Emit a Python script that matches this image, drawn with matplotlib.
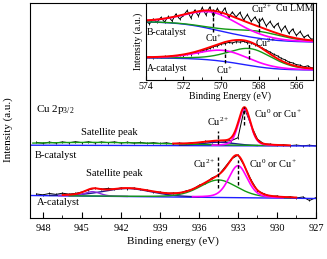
import numpy as np
import matplotlib.pyplot as plt
from matplotlib.ticker import MultipleLocator

plt.rcParams['font.family'] = ['Liberation Serif', 'DejaVu Serif']
plt.rcParams['mathtext.fontset'] = 'custom'
plt.rcParams['mathtext.rm'] = 'Liberation Serif'
plt.rcParams['mathtext.it'] = 'Liberation Serif:italic'

# ---- Cu 2p3/2 spectra, one point every 0.5 eV (948.5 -> 927 eV) ----
be_2p = np.linspace(948.5, 927.0, 44)
a_2p = [24.0, 23.2, 24.5, 23.6, 24.8, 23.9, 24.6, 26.0, 28.0, 29.8,
        28.9, 29.6, 28.7, 30.1, 29.4, 30.0, 28.6, 27.9, 26.2, 25.9,
        24.6, 25.0, 24.8, 27.1, 28.5, 32.6, 35.0, 40.1, 42.8, 50.9,
        59.0, 63.0, 52.0, 38.3, 27.4, 24.2, 21.6, 22.0, 20.6, 21.3,
        20.1, 21.0, 17.5, 20.4]
b_2p = [75.6, 74.7, 75.9, 75.0, 76.1, 75.2, 76.3, 75.3, 76.2, 75.1,
        76.0, 75.4, 76.1, 75.0, 75.8, 74.9, 75.6, 74.6, 75.3, 74.5,
        75.2, 74.2, 74.9, 74.3, 75.4, 75.1, 76.7, 76.4, 77.6, 76.8,
        77.4, 80.3, 110.0, 93.0, 78.9, 74.0, 73.8, 72.8, 73.3, 72.4,
        72.9, 72.2, 72.8, 72.1]

# fitted peaks: centre (eV), height, FWHM (eV)
a_cu1 = [933.0, 32.0, 1.7]
a_cu2 = [934.5, 17.5, 3.4]
a_sat1 = [941.5, 8.0, 4.5]
a_sat2 = [944.2, 4.5, 1.4]
a_bg = [22.5, 19.5]          # background at 949 / 927 eV
b_cu1 = [932.5, 37.0, 1.1]
b_cu2 = [934.5, 3.5, 3.0]
b_sat = [944.0, 3.0, 14.0]
b_bg = [72.8, 72.0]

# ---- Cu LMM spectra, one point every 0.2 eV (574 -> 565 eV) ----
be_lmm = np.linspace(574.0, 565.0, 46)
a_lmm = [22.5, 23.3, 22.2, 23.0, 22.6, 23.6, 23.1, 24.2, 23.5, 25.0,
         24.3, 26.2, 25.4, 27.6, 27.0, 29.3, 30.2, 31.5, 33.4, 34.0,
         35.9, 36.4, 37.6, 37.0, 38.3, 37.9, 38.6, 37.2, 37.0, 35.2,
         33.5, 31.9, 29.8, 28.0, 25.7, 24.1, 21.6, 20.2, 18.0, 17.1,
         15.4, 14.8, 13.1, 14.2, 12.0, 12.6]
b_lmm = [59.5, 56.0, 61.0, 57.5, 62.5, 58.0, 63.5, 59.0, 66.0, 61.0,
         64.5, 69.5, 62.0, 70.0, 64.0, 72.5, 65.0, 73.0, 63.5, 71.5,
         66.0, 72.0, 62.5, 68.0, 63.0, 67.5, 60.0, 65.5, 58.5, 63.0,
         57.0, 61.5, 54.0, 58.5, 52.5, 56.5, 49.0, 54.0, 46.5, 51.0,
         44.5, 48.5, 42.5, 45.0, 40.5, 42.0]
a_lmm_cu1 = [569.8, 11.0, 3.2]
a_lmm_cu2 = [568.4, 17.0, 2.8]
a_lmm_bg = [22.0, 10.0]      # high / low side of the Shirley step
b_lmm_cu1 = [570.4, 17.0, 3.4]
b_lmm_cu2 = [568.0, 7.0, 3.2]
b_lmm_bg = [58.0, 38.0]

RED = '#ff0000'
MAG = '#ff00ff'
GRN = '#139a13'
BLU = '#2020ff'
NAVY = '#1a1a90'
PUR = '#8a2be2'
DATA = dict(color='k', lw=0.7, marker='|', ms=1.8, mew=0.6)


def pv(x, p):
    c, h, w = p
    d = (x - c) / w
    return h * (0.7 * np.exp(-4 * np.log(2) * d ** 2) + 0.3 / (1 + 4 * d ** 2))


def shirley(x, comps, hi, lo):
    s = sum(comps)[::-1]
    xr = x[::-1]
    cum = np.concatenate([[0], np.cumsum((s[1:] + s[:-1]) / 2 * np.abs(np.diff(xr)))])
    return (lo + (hi - lo) * cum / cum[-1])[::-1]


def seg(ax, x, y, lo, hi, **kw):
    m = (x >= lo) & (x <= hi)
    ax.plot(x[m], y[m], **kw)


fig = plt.figure(figsize=(3.27, 2.59), dpi=100)
ax = fig.add_axes([0.0917, 0.1583, 0.8746, 0.8313])
ax.set_xlim(949, 927)
ax.set_ylim(0, 215.3)

xf = np.linspace(949, 927, 900)

# A-catalyst
bg = np.interp(xf, [927, 949], [a_bg[1], a_bg[0]])
p1, p2, s1, s2 = pv(xf, a_cu1), pv(xf, a_cu2), pv(xf, a_sat1), pv(xf, a_sat2)
ax.plot(be_2p, a_2p, **DATA)
ax.plot(xf, bg, color=BLU, lw=1.0)
seg(ax, xf, bg + s1, 936, 947.5, color=NAVY, lw=1.0)
seg(ax, xf, bg + s2, 941.5, 946.8, color=PUR, lw=1.0)
seg(ax, xf, bg + p2, 929, 946, color=GRN, lw=1.0)
seg(ax, xf, bg + p1, 929.5, 936.5, color=MAG, lw=1.2)
seg(ax, xf, bg + p1 + p2 + s1 + s2, 928.5, 946.5, color=RED, lw=1.4)

# B-catalyst
bg = np.interp(xf, [927, 949], [b_bg[1], b_bg[0]])
p1, p2, s1 = pv(xf, b_cu1), pv(xf, b_cu2), pv(xf, b_sat)
ax.plot(be_2p, b_2p, **DATA)
ax.plot(xf, bg, color=BLU, lw=1.0)
seg(ax, xf, bg + p2, 931.5, 937.5, color=NAVY, lw=1.0)
seg(ax, xf, bg + s1, 930, 948.8, color=GRN, lw=1.0)
seg(ax, xf, bg + p1, 930, 935, color=MAG, lw=1.2)
seg(ax, xf, bg + p1 + p2 + s1, 929, 938, color=RED, lw=1.4)

fs = 7.5
ax.text(948.5, 108, 'Cu 2p$_{3/2}$', fontsize=fs + 0.5, va='center')
ax.text(945.1, 85, 'Satellite peak', fontsize=fs, va='center')
ax.text(948.6, 62, 'B-catalyst', fontsize=fs, va='center')
ax.text(944.7, 44, 'Satellite peak', fontsize=fs, va='center')
ax.text(948.5, 15, 'A-catalyst', fontsize=fs, va='center')
ax.text(934.5, 96, 'Cu$^{2+}$', fontsize=fs, va='center', ha='center')
ax.text(931.8, 104, 'Cu$^{0}$ or Cu$^{+}$', fontsize=fs, va='center')
ax.text(935.6, 54, 'Cu$^{2+}$', fontsize=fs, va='center', ha='center')
ax.text(932.15, 54, 'Cu$^{0}$ or Cu$^{+}$', fontsize=fs, va='center')
for xv, y0, y1 in [(934.5, 74, 87), (932.5, 93, 111), (934.5, 30, 61), (933.0, 33, 58)]:
    ax.plot([xv, xv], [y0, y1], color='k', lw=1.0, ls=(0, (2.5, 1.5)))

ax.xaxis.set_major_locator(MultipleLocator(3))
ax.xaxis.set_minor_locator(MultipleLocator(1.5))
ax.tick_params(which='both', direction='in', top=False, left=False, labelleft=False,
               labelsize=7.5, pad=4)
ax.tick_params(which='major', length=4)
ax.tick_params(which='minor', length=2.5)
ax.set_yticks([])
ax.set_xlabel('Binding energy (eV)', fontsize=8, labelpad=3)
ax.set_ylabel('Intensity (a.u.)', fontsize=8)
ax.yaxis.set_label_coords(-0.06, 0.41)

# ---- inset: Cu LMM ----
axi = fig.add_axes([0.4456, 0.6911, 0.5125, 0.2962])
axi.set_xlim(574, 565.1)
axi.set_ylim(0, 76.7)
xi = np.linspace(574, 565.1, 500)

p1, p2 = pv(xi, a_lmm_cu1), pv(xi, a_lmm_cu2)
bg = shirley(xi, [p1, p2], *a_lmm_bg)
axi.plot(be_lmm, a_lmm, **DATA)
axi.plot(xi, bg, color=BLU, lw=1.0)
axi.plot(xi, bg + p2, color=GRN, lw=1.0)
axi.plot(xi, bg + p1, color=MAG, lw=1.2)
axi.plot(xi, bg + p1 + p2, color=RED, lw=1.4)

p1, p2 = pv(xi, b_lmm_cu1), pv(xi, b_lmm_cu2)
bg = shirley(xi, [p1, p2], *b_lmm_bg)
axi.plot(be_lmm, b_lmm, **DATA)
axi.plot(xi, bg, color=BLU, lw=1.0)
axi.plot(xi, bg + p2, color=GRN, lw=1.0)
axi.plot(xi, bg + p1, color=MAG, lw=1.2)
axi.plot(xi, bg + p1 + p2, color=RED, lw=1.4)

fi = 7
axi.text(573.93, 47, 'B-catalyst', fontsize=fi, va='center')
axi.text(573.93, 12, 'A-catalyst', fontsize=fi, va='center')
axi.text(570.4, 42, 'Cu$^{+}$', fontsize=fi, va='center', ha='center')
axi.text(568.4, 71, 'Cu$^{2+}$', fontsize=fi, va='center')
axi.text(567.1, 71, 'Cu LMM', fontsize=fi, va='center')
axi.text(569.8, 10, 'Cu$^{+}$', fontsize=fi, va='center', ha='center')
axi.text(568.2, 37, 'Cu$^{2+}$', fontsize=fi, va='center')
for xv, y0, y1 in [(570.4, 48, 71), (568.0, 48, 62), (569.8, 17, 33), (568.5, 21, 37)]:
    axi.plot([xv, xv], [y0, y1], color='k', lw=1.0, ls=(0, (2.5, 1.5)))

axi.xaxis.set_major_locator(MultipleLocator(2))
axi.xaxis.set_minor_locator(MultipleLocator(1))
axi.tick_params(which='both', direction='in', top=False, left=False, labelleft=False,
                labelsize=7, pad=1.5)
axi.tick_params(which='major', length=3)
axi.tick_params(which='minor', length=2)
axi.set_yticks([])
axi.set_xlabel('Binding Energy (eV)', fontsize=7, labelpad=0)
axi.set_ylabel('Intensity (a.u.)', fontsize=7, labelpad=2)

fig.savefig('out.png', dpi=100)
